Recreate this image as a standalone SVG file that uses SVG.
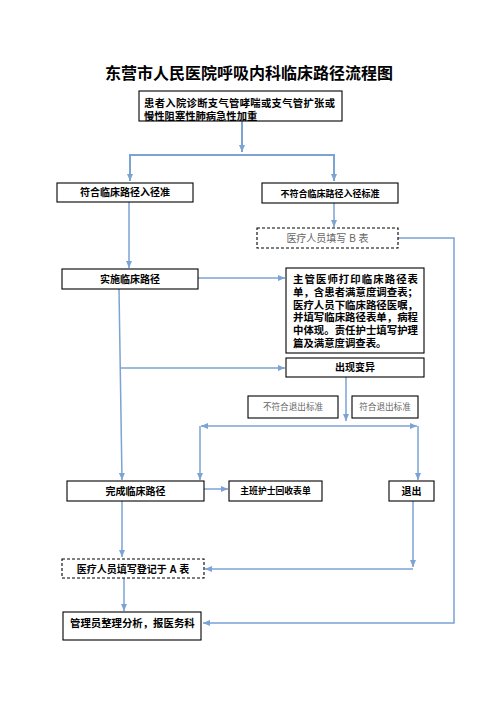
<svg xmlns="http://www.w3.org/2000/svg" width="496" height="702" viewBox="0 0 496 702">
<defs>
<marker id="ah" markerUnits="userSpaceOnUse" markerWidth="8" markerHeight="8" viewBox="0 0 8 8" refX="7" refY="4" orient="auto">
<path d="M0,1 L7,4 L0,7 Z" fill="#7BA3D3"/>
</marker>
<style>
.box{fill:#fff;stroke:#000;stroke-width:1.1}
.dash{fill:#fff;stroke:#000;stroke-width:1.1;stroke-dasharray:3,2}
.t{font-family:"Liberation Sans","Noto Sans CJK SC",sans-serif;font-weight:bold;fill:#000}
.g{font-family:"Liberation Sans","Noto Sans CJK SC",sans-serif;font-weight:normal;fill:#666}
.c{stroke:#7BA3D3;stroke-width:1.5;fill:none}
.ca{stroke:#7BA3D3;stroke-width:1.5;fill:none;marker-end:url(#ah)}
.cb{stroke:#7BA3D3;stroke-width:2;fill:none;marker-end:url(#ah)}
</style>
</defs>
<rect width="496" height="702" fill="#fff"/>
<text x="249" y="79" text-anchor="middle" class="t" font-size="16">东营市人民医院呼吸内科临床路径流程图</text>

<g id="connectors">
<path class="cb" d="M242,121 V152"/>
<path class="cb" d="M242,155 H130 V181"/>
<path class="cb" d="M242,155 H334 V181"/>
<path class="ca" d="M129,202 V268"/>
<path class="ca" d="M334,203 V227"/>
<path class="ca" d="M398,238 H454 V623 H203"/>
<path class="ca" d="M198,278 H285"/>
<path class="ca" d="M119,289 L122,480"/>
<path class="ca" d="M120,368 H285"/>
<path class="ca" d="M346,377 V421"/>
<path class="ca" d="M346,426 H201"/>
<path class="ca" d="M346,426 H417"/>
<path class="ca" d="M200,426 V480"/>
<path class="ca" d="M418,426 V480"/>
<path class="ca" d="M204,489 H228"/>
<path class="ca" d="M122,501 V557"/>
<path class="ca" d="M413,501 V567"/>
<path class="ca" d="M413,569 H205"/>
<path class="ca" d="M124,578 V611"/>
</g>

<g id="n1">
<rect class="box" x="139" y="91" width="203" height="30"/>
<text class="t" font-size="10.3" x="144" y="107" textLength="191" lengthAdjust="spacing">患者入院诊断支气管哮喘或支气管扩张或</text>
<text class="t" font-size="10.3" x="144" y="120">慢性阻塞性肺病急性加重</text>
</g>
<g id="n2">
<rect class="box" x="57" y="183" width="136" height="19"/>
<text class="t" font-size="10" x="125" y="196" text-anchor="middle">符合临床路径入径准</text>
</g>
<g id="n3">
<rect class="box" x="262" y="183" width="136" height="20"/>
<text class="t" font-size="9" x="330" y="196.5" text-anchor="middle">不符合临床路径入径标准</text>
</g>
<g id="n4">
<rect class="dash" x="257" y="228" width="141" height="20"/>
<text class="g" font-size="10" x="327.5" y="241.5" text-anchor="middle">医疗人员填写 B 表</text>
</g>
<g id="n5">
<rect class="box" x="62" y="269" width="136" height="20"/>
<text class="t" font-size="10" x="130" y="282.5" text-anchor="middle">实施临床路径</text>
</g>
<g id="n6">
<rect class="box" x="286" y="268" width="138" height="85"/>
<text class="t" font-size="10.4" x="293" y="283" textLength="125" lengthAdjust="spacing">主管医师打印临床路径表</text>
<text class="t" font-size="10.4" x="293" y="296" textLength="125" lengthAdjust="spacing">单，含患者满意度调查表；</text>
<text class="t" font-size="10.4" x="293" y="308.5" textLength="125" lengthAdjust="spacing">医疗人员下临床路径医嘱，</text>
<text class="t" font-size="10.4" x="293" y="321" textLength="125" lengthAdjust="spacing">并填写临床路径表单，病程</text>
<text class="t" font-size="10.4" x="293" y="334" textLength="125" lengthAdjust="spacing">中体现。责任护士填写护理</text>
<text class="t" font-size="10.4" x="293" y="347">篇及满意度调查表。</text>
</g>
<g id="n7">
<rect class="box" x="286" y="358" width="138" height="19"/>
<text class="t" font-size="10" x="355" y="371" text-anchor="middle">出现变异</text>
</g>
<g id="n8">
<rect class="box" x="248" y="396" width="90" height="22"/>
<text class="g" font-size="8.6" x="293" y="410" text-anchor="middle">不符合退出标准</text>
</g>
<g id="n9">
<rect class="box" x="352" y="396" width="66" height="22"/>
<text class="g" font-size="8.6" x="385" y="410" text-anchor="middle">符合退出标准</text>
</g>
<g id="n10">
<rect class="box" x="67" y="481" width="137" height="20"/>
<text class="t" font-size="10" x="135.5" y="494.5" text-anchor="middle">完成临床路径</text>
</g>
<g id="n11">
<rect class="box" x="229" y="481" width="93" height="20"/>
<text class="t" font-size="8.8" x="275.5" y="494" text-anchor="middle">主班护士回收表单</text>
</g>
<g id="n12">
<rect class="box" x="389" y="481" width="45" height="20"/>
<text class="t" font-size="10" x="411.5" y="494.5" text-anchor="middle">退出</text>
</g>
<g id="n13">
<rect class="dash" x="62" y="559" width="142" height="19"/>
<text class="t" font-size="10" x="133" y="572.5" text-anchor="middle">医疗人员填写登记于 A 表</text>
</g>
<g id="n14">
<rect class="box" x="63" y="612" width="138" height="28"/>
<text class="t" font-size="10.4" x="70" y="627">管理员整理分析，报医务科</text>
</g>
</svg>
